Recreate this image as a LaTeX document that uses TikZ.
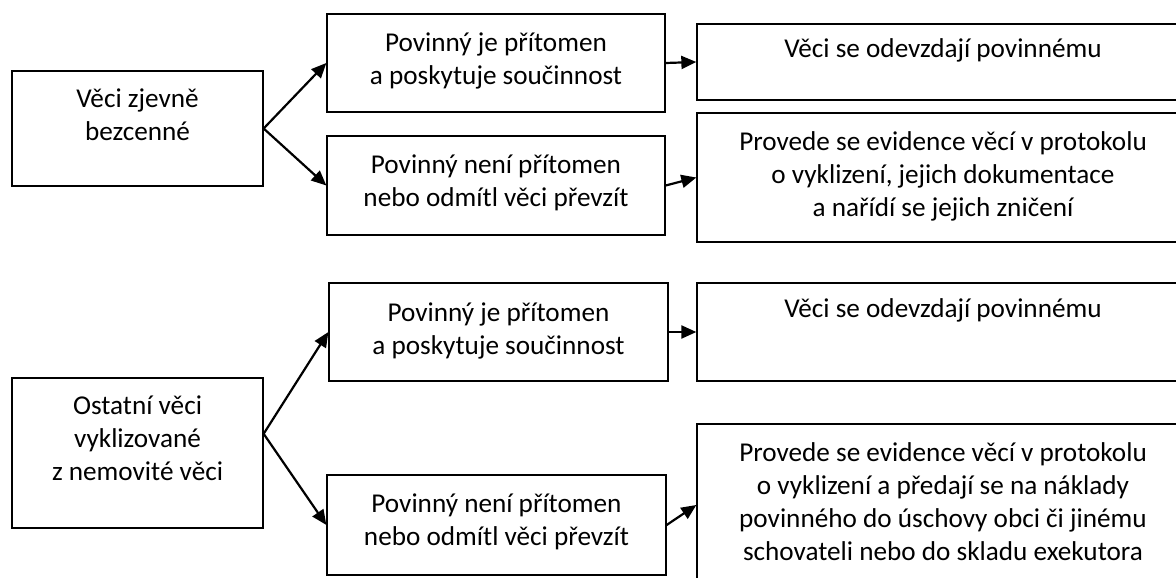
\documentclass[tikz,border=0pt]{standalone}
\usepackage{fontspec}
\setmainfont{Carlito}
\usetikzlibrary{arrows.meta,calc}
\tikzset{
  boxnode/.style={draw=black, line width=1.3pt, inner sep=0pt, anchor=center},
  txt/.style={inner sep=0pt, align=center, font=\fontsize{27.2}{33}\selectfont, anchor=center},
  arr/.style={line width=2.2pt, -{Triangle[length=15pt,width=13pt]}}
}
\begin{document}
\begin{tikzpicture}[x=1pt,y=-1pt]
\useasboundingbox (0,0) rectangle (1176,578);
\clip (0,0) rectangle (1176,578);
% boxes
\node[boxnode, minimum width=251pt, minimum height=115pt] (A) at (137.5,128.5) {};
\node[boxnode, minimum width=338pt, minimum height=98pt] (B) at (496,63) {};
\node[boxnode, minimum width=338pt, minimum height=99pt] (C) at (496,185.5) {};
\node[boxnode, minimum width=494pt, minimum height=76pt] (D) at (944,62) {};
\node[boxnode, minimum width=494pt, minimum height=129pt] (E) at (944,177.5) {};
\node[boxnode, minimum width=251pt, minimum height=150pt] (K) at (137.5,453) {};
\node[boxnode, minimum width=339pt, minimum height=98pt] (F) at (498.5,332) {};
\node[boxnode, minimum width=494pt, minimum height=98pt] (H) at (944,332) {};
\node[boxnode, minimum width=339pt, minimum height=100pt] (G) at (496.5,525) {};
\node[boxnode, minimum width=494pt, minimum height=162pt] (I) at (944,505) {};
% texts
\node[txt] (At) at (137.5,117) {\strut Věci zjevně\\\strut bezcenné};
\node[txt] (Bt) at (496,61.4) {\strut Povinný je přítomen\\\strut a poskytuje součinnost};
\node[txt] (Ct) at (496,183) {\strut Povinný není přítomen\\\strut nebo odmítl věci převzít};
\node[txt] (Dt) at (943,51.4) {\strut Věci se odevzdají povinnému};
\node[txt] (Et) at (943,176.7) {\strut Provede se evidence věcí v protokolu\\\strut o vyklizení, jejich dokumentace\\\strut a nařídí se jejich zničení};
\node[txt] (Kt) at (137.5,441) {\strut Ostatní věci\\\strut vyklizované\\\strut z nemovité věci};
\node[txt] (Ft) at (498.5,331) {\strut Povinný je přítomen\\\strut a poskytuje součinnost};
\node[txt] (Ht) at (943,310.4) {\strut Věci se odevzdají povinnému};
\node[txt] (Gt) at (496.5,522.6) {\strut Povinný není přítomen\\\strut nebo odmítl věci převzít};
\node[txt] (It) at (943,504.8) {\strut Provede se evidence věcí v protokolu\\\strut o vyklizení a předají se na náklady\\\strut povinného do úschovy obci či jinému\\\strut schovateli nebo do skladu exekutora};
% connectors
\coordinate (Kf) at ($(K.north east)!0.373!(K.south east)$);
\draw[arr] (A.east) -- (B.west);
\draw[arr] (A.east) -- (C.west);
\draw[arr] (B.east) -- (D.west);
\draw[arr] (C.east) -- (E.west);
\draw[arr] (Kf) -- (F.west);
\draw[arr] (Kf) -- (G.west);
\draw[arr] (F.east) -- (H.west);
\draw[arr] (G.east) -- (I.west);
\end{tikzpicture}
\end{document}
